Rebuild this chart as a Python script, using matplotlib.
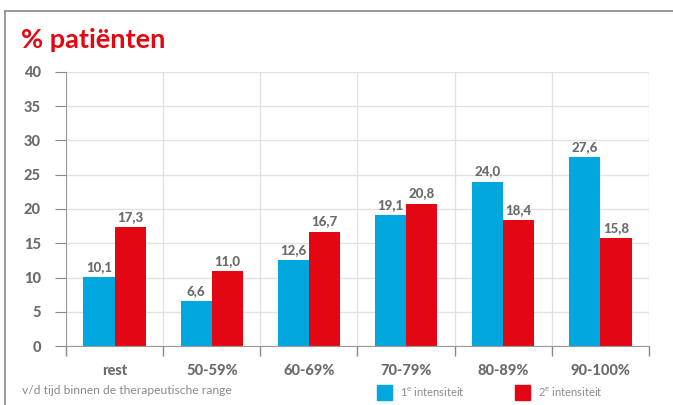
import matplotlib
matplotlib.use('Agg')
import matplotlib.pyplot as plt
import numpy as np
from matplotlib.patches import Rectangle
from matplotlib.lines import Line2D

plt.rcParams['font.family'] = ['Lato', 'DejaVu Sans']

categories = ['rest', '50-59%', '60-69%', '70-79%', '80-89%', '90-100%']
eerste = [10.1, 6.6, 12.6, 19.1, 24.0, 27.6]
tweede = [17.3, 11.0, 16.7, 20.8, 18.4, 15.8]
series_names = ['1$^{\\mathregular{e}}$ intensiteit', '2$^{\\mathregular{e}}$ intensiteit']

blue = '#00a7de'
red = '#e30613'
grey_txt = '#6b6b6b'

fig = plt.figure(figsize=(6.73, 4.05), dpi=100)
ax = fig.add_axes([66/673, 1 - 346/405, 583/673, 274/405])

x = np.arange(len(categories))
w = 0.32
b1 = ax.bar(x - w/2, eerste, w, color=blue, zorder=3)
b2 = ax.bar(x + w/2, tweede, w, color=red, zorder=3)

for bars, vals in ((b1, eerste), (b2, tweede)):
    for r, v in zip(bars, vals):
        ax.text(r.get_x() + r.get_width()/2, v + 0.6, f'{v:.1f}'.replace('.', ','),
                ha='center', va='bottom', fontsize=9.5, fontweight='black', color=grey_txt)

ax.set_xlim(-0.5, len(categories) - 0.5)
ax.set_ylim(0, 40)
ax.set_yticks(np.arange(0, 40.1, 5))
ax.set_xticks(x)
ax.set_xticklabels(categories, fontsize=10.5, fontweight='black', color=grey_txt)
ax.set_xticks(np.arange(-0.5, len(categories)), minor=True)
ax.tick_params(axis='x', which='major', length=0, pad=13)
ax.tick_params(axis='x', which='minor', length=7, color='#888888', width=1)
ax.tick_params(axis='y', length=8, color='#888888', pad=10, labelsize=10.5, labelcolor=grey_txt)
for t in ax.get_yticklabels():
    t.set_fontweight('black')

ax.grid(axis='y', color='#e2e2e2', linewidth=1, zorder=0)
ax.grid(axis='x', which='minor', color='#e2e2e2', linewidth=1, zorder=0)
for s in ('top', 'right'):
    ax.spines[s].set_visible(False)
ax.spines['left'].set_color('#999999')
ax.spines['bottom'].set_color('#999999')
ax.spines['bottom'].set_zorder(4)

# title and frame
fig.text(21/673, 1 - 40/405, '% patiënten', color=red, fontsize=19.5, fontweight='bold',
         va='center', ha='left')
fig.add_artist(Line2D([5/673, 1], [1 - 11/405, 1 - 11/405], color='#8a8a8a', lw=1.2))
fig.add_artist(Line2D([5/673, 5/673], [0, 1 - 11/405], color='#8a8a8a', lw=1.2))

# footer note and legend
fig.text(22/673, 1 - 391/405, 'v/d tijd binnen de therapeutische range', color='#8a8a8a',
         fontsize=8.7, va='center', ha='left')
for xs, col, name in ((377, blue, series_names[0]), (515, red, series_names[1])):
    fig.add_artist(Rectangle((xs/673, 1 - 400/405), 15/673, 15/405, color=col,
                             transform=fig.transFigure))
    fig.text((xs + 23)/673, 1 - 391/405, name, color='#8a8a8a', fontsize=8,
             va='center', ha='left')

fig.savefig('out.png', dpi=100)
